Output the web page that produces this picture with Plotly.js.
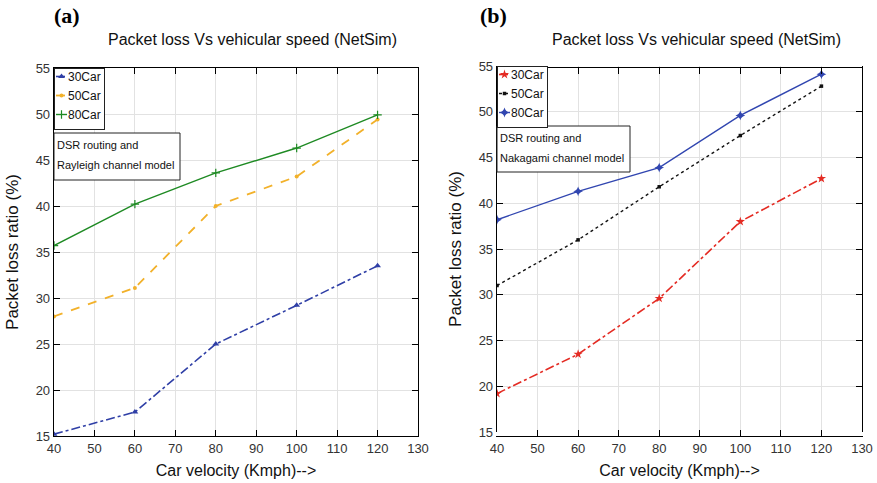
<!DOCTYPE html>
<html>
<head>
<meta charset="utf-8">
<script src="https://cdn.plot.ly/plotly-3.0.1.min.js"></script>
<style>html,body{margin:0;padding:0;background:#fff;}#chart{width:877px;height:483px;}</style>
</head>
<body>
<div id="chart"></div>
<script>
// ---- data ----
const speeds = [40, 60, 80, 100, 120];
const seriesNames = ['30Car', '50Car', '80Car'];
// (a) DSR + Rayleigh
const a30 = [15.2, 17.6, 25.0, 29.2, 33.5];
const a50 = [28.0, 31.1, 40.0, 43.2, 49.4];
const a80 = [35.7, 40.2, 43.6, 46.3, 49.9];
// (b) DSR + Nakagami
const b30 = [19.2, 23.5, 29.6, 38.0, 42.7];
const b50 = [31.0, 36.0, 41.8, 47.4, 52.8];
const b80 = [38.2, 41.3, 43.9, 49.6, 54.1];
const xTicks = [40, 50, 60, 70, 80, 90, 100, 110, 120, 130];
const yTicks = [15, 20, 25, 30, 35, 40, 45, 50, 55];

const W = 877, H = 483;
const px = v => v / W, py = v => 1 - v / H;

const traces = [
  {x: speeds, y: a30, name: seriesNames[0], xaxis: 'x', yaxis: 'y', legend: 'legend',
   mode: 'lines+markers', line: {color: '#2f3fa6', width: 1.6, dash: 'dashdot'},
   marker: {symbol: 'triangle-up', size: 6, color: '#2f3fa6'}},
  {x: speeds, y: a50, name: seriesNames[1], xaxis: 'x', yaxis: 'y', legend: 'legend',
   mode: 'lines+markers', line: {color: '#f2b12a', width: 1.8, dash: 'dash'},
   marker: {symbol: 'circle', size: 4, color: '#f2b12a'}},
  {x: speeds, y: a80, name: seriesNames[2], xaxis: 'x', yaxis: 'y', legend: 'legend',
   mode: 'lines+markers', line: {color: '#1e8a23', width: 1.4},
   marker: {symbol: 'cross-thin', size: 6, color: '#1e8a23', line: {color: '#1e8a23', width: 1.2}}},
  {x: speeds, y: b30, name: seriesNames[0], xaxis: 'x2', yaxis: 'y2', legend: 'legend2',
   mode: 'lines+markers', line: {color: '#e42b23', width: 1.6, dash: 'dashdot'},
   marker: {symbol: 'star', size: 7, color: '#e42b23'}},
  {x: speeds, y: b50, name: seriesNames[1], xaxis: 'x2', yaxis: 'y2', legend: 'legend2',
   mode: 'lines+markers', line: {color: '#111111', width: 1.4, dash: 'dot'},
   marker: {symbol: 'square', size: 3.5, color: '#111111'}},
  {x: speeds, y: b80, name: seriesNames[2], xaxis: 'x2', yaxis: 'y2', legend: 'legend2',
   mode: 'lines+markers', line: {color: '#3146b0', width: 1.4},
   marker: {symbol: 'star-diamond', size: 7, color: '#3146b0'}}
];

const tickFont = {family: 'Liberation Sans, Arial, sans-serif', size: 13, color: '#333'};
function xa(domain) {
  return {domain: domain, range: [40, 130], tickvals: xTicks, ticks: 'inside', ticklen: 6,
    tickcolor: '#000', showline: true, linecolor: '#000', linewidth: 1.3, mirror: 'ticks',
    showgrid: true, gridcolor: '#e2e2e2', zeroline: false, tickfont: tickFont,
    title: {text: 'Car velocity (Kmph)-->', font: {family: 'Liberation Sans, Arial, sans-serif', size: 16, color: '#111'}, standoff: 10}};
}
function ya(domain) {
  return {domain: domain, range: [15, 55], tickvals: yTicks, ticks: 'inside', ticklen: 6,
    tickcolor: '#000', showline: true, linecolor: '#000', linewidth: 1.3, mirror: 'ticks',
    showgrid: true, gridcolor: '#e2e2e2', zeroline: false, tickfont: tickFont,
    title: {text: 'Packet loss ratio (%)', font: {family: 'Liberation Sans, Arial, sans-serif', size: 17, color: '#111'}, standoff: 12}};
}
const legendStyle = (x, y) => ({x: x, y: y, xanchor: 'left', yanchor: 'top', xref: 'paper', yref: 'paper',
  bgcolor: '#fff', bordercolor: '#222', borderwidth: 1, font: {family: 'Liberation Sans, Arial, sans-serif', size: 12, color: '#111'},
  itemwidth: 30, tracegroupgap: 0});

const noteFont = {family: 'Liberation Sans, Arial, sans-serif', size: 11, color: '#111'};
const titleFont = {family: 'Liberation Sans, Arial, sans-serif', size: 16, color: '#111'};
const layout = {
  width: W, height: H, margin: {l: 0, r: 0, t: 0, b: 0},
  paper_bgcolor: '#fff', plot_bgcolor: '#fff', showlegend: true,
  xaxis: xa([px(54), px(418)]), yaxis: ya([py(436), py(68)]),
  xaxis2: xa([px(497), px(862)]), yaxis2: Object.assign(ya([py(432), py(66)]), {anchor: 'x2'}),
  legend: legendStyle(px(54), py(68)),
  legend2: legendStyle(px(497), py(66)),
  shapes: [
    {type: 'rect', xref: 'paper', yref: 'paper', x0: px(54), x1: px(180), y0: py(180), y1: py(133), line: {color: '#222', width: 1}, fillcolor: '#fff', layer: 'above'},
    {type: 'rect', xref: 'paper', yref: 'paper', x0: px(497), x1: px(630), y0: py(172), y1: py(126), line: {color: '#222', width: 1}, fillcolor: '#fff', layer: 'above'}
  ],
  annotations: [
    {text: '<b>(a)</b>', xref: 'paper', yref: 'paper', x: px(52), y: py(16), xanchor: 'left', yanchor: 'middle', showarrow: false, font: {family: 'Liberation Serif, Times New Roman, serif', size: 22, color: '#000'}},
    {text: '<b>(b)</b>', xref: 'paper', yref: 'paper', x: px(478), y: py(16), xanchor: 'left', yanchor: 'middle', showarrow: false, font: {family: 'Liberation Serif, Times New Roman, serif', size: 22, color: '#000'}},
    {text: 'Packet loss Vs vehicular speed (NetSim)', xref: 'paper', yref: 'paper', x: px(253), y: py(40), xanchor: 'center', yanchor: 'middle', showarrow: false, font: titleFont},
    {text: 'Packet loss Vs vehicular speed (NetSim)', xref: 'paper', yref: 'paper', x: px(696), y: py(40), xanchor: 'center', yanchor: 'middle', showarrow: false, font: titleFont},
    {text: 'DSR routing and', xref: 'paper', yref: 'paper', x: px(55), y: py(145), xanchor: 'left', yanchor: 'middle', showarrow: false, font: noteFont},
    {text: 'Rayleigh channel model', xref: 'paper', yref: 'paper', x: px(55), y: py(165), xanchor: 'left', yanchor: 'middle', showarrow: false, font: noteFont},
    {text: 'DSR routing and', xref: 'paper', yref: 'paper', x: px(498), y: py(138), xanchor: 'left', yanchor: 'middle', showarrow: false, font: noteFont},
    {text: 'Nakagami channel model', xref: 'paper', yref: 'paper', x: px(498), y: py(158), xanchor: 'left', yanchor: 'middle', showarrow: false, font: noteFont}
  ]
};

// Compact the legends (short sample line, tight box) like the reference figure.
// Idempotent, so it can be re-applied safely.
function compactLegends() {
  const gd = document.getElementById('chart');
  const shiftUp = 7;
  gd.querySelectorAll('g.legend, g.legend2').forEach(lg => {
    const bg = lg.querySelector('rect.bg');
    if (!bg) return;
    lg.querySelectorAll('.legendlines path').forEach(p => p.setAttribute('d', 'M1,0h11'));
    lg.querySelectorAll('.legendpoints path').forEach(p => p.setAttribute('transform', 'translate(6.5,0)'));
    let maxw = 0;
    lg.querySelectorAll('g.traces > text').forEach(t => {
      t.setAttribute('x', 13);
      t.querySelectorAll('tspan').forEach(s => { if (s.hasAttribute('x')) s.setAttribute('x', 13); });
      try { maxw = Math.max(maxw, t.getBBox().width); } catch (e) {}
    });
    lg.querySelectorAll('g.traces').forEach(g => {
      if (g.dataset.oy === undefined) {
        const tr = g.getAttribute('transform') || '';
        const m = tr.match(/translate\(\s*([-\d.e]+)[ ,]+([-\d.e]+)\s*\)/);
        if (!m) return;
        g.dataset.ox = m[1]; g.dataset.oy = m[2];
      }
      g.setAttribute('transform', 'translate(' + g.dataset.ox + ',' + (parseFloat(g.dataset.oy) - shiftUp) + ')');
    });
    if (bg.dataset.oh === undefined) bg.dataset.oh = bg.getAttribute('height');
    if (maxw > 0) bg.setAttribute('width', 13 + maxw + 4);
    bg.setAttribute('height', parseFloat(bg.dataset.oh) - shiftUp);
  });
}
Plotly.newPlot('chart', traces, layout, {staticPlot: true, displayModeBar: false}).then(() => {
  compactLegends();
  requestAnimationFrame(compactLegends);
  setTimeout(compactLegends, 30);
});
</script>
</body>
</html>
